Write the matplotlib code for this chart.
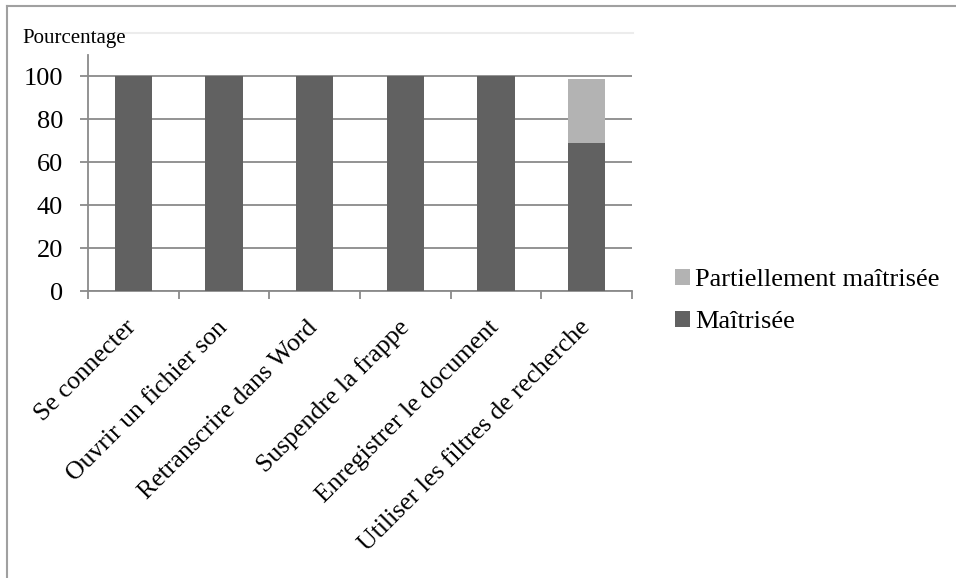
import matplotlib.pyplot as plt
from matplotlib.lines import Line2D
from matplotlib.transforms import ScaledTranslation
import numpy as np

plt.rcParams['font.family'] = ['Liberation Serif', 'DejaVu Serif']

categories = ["Se connecter", "Ouvrir un fichier son", "Retranscrire dans Word",
              "Suspendre la frappe", "Enregistrer le document",
              "Utiliser les filtres de recherche"]
maitrisee = [100, 100, 100, 100, 100, 69]
partielle = [0, 0, 0, 0, 0, 30]
yticks = [0, 20, 40, 60, 80, 100]

dark = '#616161'
light = '#b3b3b3'
gridc = '#8a8a8a'

fig = plt.figure(figsize=(9.56, 5.78), dpi=100)
ax = fig.add_axes([88/956, 1-291/578, (632-88)/956, (291-55)/578])

x = np.arange(len(categories))
ax.bar(x, maitrisee, width=0.41, color=dark, label='Maîtrisée', zorder=3)
ax.bar(x, partielle, width=0.41, bottom=maitrisee, color=light,
       label='Partiellement maîtrisée', zorder=3)

ax.set_xlim(-0.5, len(categories) - 0.5)
ax.set_ylim(0, 110)
ax.set_yticks(yticks)
ax.set_yticklabels([str(v) for v in yticks], fontsize=19)
ax.yaxis.grid(True, color=gridc, linewidth=1.3, zorder=0)
ax.tick_params(axis='y', length=6, width=1.3, color=gridc, pad=12)

ax.set_xticks(x)
ax.set_xticklabels(categories, rotation=45, ha='right', rotation_mode='anchor',
                   fontsize=18.5)
ax.tick_params(axis='x', length=0, pad=16)
ax.set_xticks(np.arange(-0.5, len(categories)), minor=True)
ax.tick_params(axis='x', which='minor', length=6, width=1.3, color=gridc)
shift = ScaledTranslation(-8/100, -3/100, fig.dpi_scale_trans)
for lab in ax.get_xticklabels():
    lab.set_transform(lab.get_transform() + shift)

for s in ['top', 'right']:
    ax.spines[s].set_visible(False)
for s in ['left', 'bottom']:
    ax.spines[s].set_color(gridc)
    ax.spines[s].set_linewidth(1.3)

handles, labels = ax.get_legend_handles_labels()
ax.legend(handles[::-1], labels[::-1], loc='center left',
          bbox_to_anchor=(675/956, 1-301/578), bbox_transform=fig.transFigure,
          frameon=False, fontsize=19, handlelength=0.55, handleheight=0.55,
          handletextpad=0.2, labelspacing=0.75, borderpad=0, borderaxespad=0)

fig.text(22/956, 1-39/578, 'Pourcentage', fontsize=15, va='center', ha='left')

# faint plot-area outline and outer border
fig.add_artist(Line2D([88/956, 633/956], [1-33/578, 1-33/578], color='#ececec', lw=1.5))
fig.add_artist(Line2D([7/956, 7/956], [0, 1-6/578], color='#a0a0a0', lw=1.5))
fig.add_artist(Line2D([7/956, 1], [1-6/578, 1-6/578], color='#a0a0a0', lw=1.5))

fig.savefig('out.png', dpi=100)
